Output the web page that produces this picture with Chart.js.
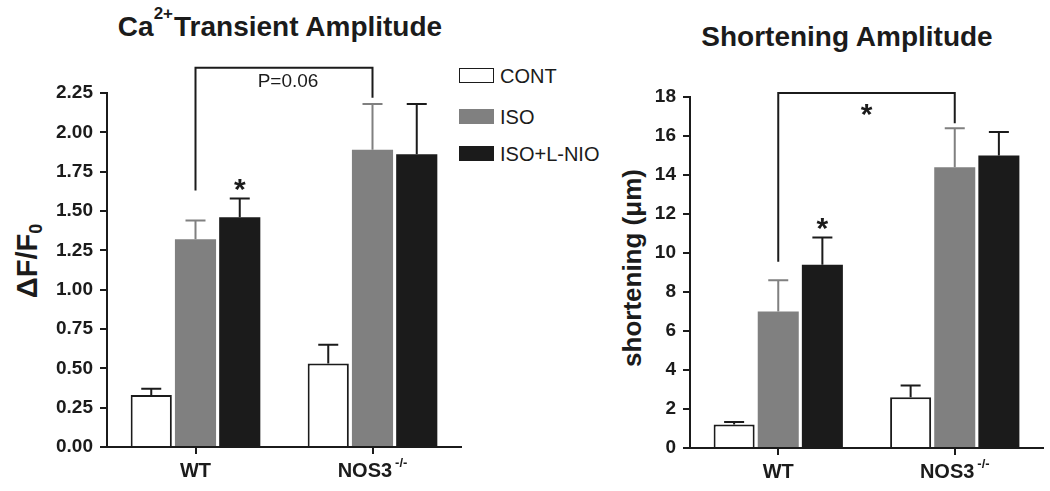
<!DOCTYPE html>
<html lang="en">
<head>
<meta charset="UTF-8">
<title>Ca2+ Transient Amplitude / Shortening Amplitude</title>
<script src="https://cdn.jsdelivr.net/npm/chart.js"></script>
<style>
  body { margin: 0; background: #fff; }
  #wrap { position: relative; width: 1050px; height: 491px; overflow: hidden;
          font-family: "Liberation Sans", Arial, sans-serif; color: #1b1b1b; }
  #c1 { position: absolute; left: 0; top: 0; }
  #c2 { position: absolute; left: 600px; top: 0; }
  .titulo { position: absolute; font-weight: bold; font-size: 28px; line-height: 28px;
            white-space: nowrap; transform: translateX(-50%); }
  .titulo .sup { font-size: 17px; position: relative; top: -17px; margin-right: 1px; }
  .eixo { position: absolute; font-weight: bold; white-space: nowrap; line-height: 1;
          transform: translate(-50%, -50%) rotate(-90deg); }
  .eixo sub { font-size: 18px; vertical-align: baseline; position: relative; top: 5px; }
  .caixa { position: absolute; left: 459px; width: 35px; height: 15px; box-sizing: border-box; }
  .texto_leg { position: absolute; left: 500px; font-size: 20px; line-height: 20px; white-space: nowrap; }
</style>
</head>
<body>
<div id="wrap">
  <div class="titulo" style="left:280px; top:13px;">Ca<span class="sup">2+</span>Transient Amplitude</div>
  <div class="titulo" style="left:847px; top:23px;">Shortening Amplitude</div>
  <div class="eixo" style="left:27px; top:261px; font-size:29px;">&Delta;F/F<sub>0</sub></div>
  <div class="eixo" style="left:632px; top:268px; font-size:26px;">shortening (&mu;m)</div>
  <div id="legenda"></div>
  <canvas id="c1" width="470" height="491"></canvas>
  <canvas id="c2" width="450" height="491"></canvas>
</div>

<script>
// categorias e series
const categorias = ['WT', 'NOS3'];
const categoriasSup = ['', '-/-'];
const series = ['CONT', 'ISO', 'ISO+L-NIO'];
const coresSeries = ['#ffffff', '#808080', '#1b1b1b'];
const coresBorda = ['#1b1b1b', '#808080', '#1b1b1b'];
const coresErro = ['#1b1b1b', '#808080', '#1b1b1b'];

// Ca2+ transient amplitude (dF/F0)
const caCont = [0.33, 0.53];
const caIso = [1.32, 1.89];
const caIsoLnio = [1.46, 1.86];
const caContErro = [0.04, 0.12];
const caIsoErro = [0.12, 0.29];
const caIsoLnioErro = [0.12, 0.32];
const caTicks = [0, 0.25, 0.5, 0.75, 1, 1.25, 1.5, 1.75, 2, 2.25];
const caColchete = [1.63, 2.41, 2.22];   // ponta esquerda, topo, ponta direita
const caColcheteTexto = 'P=0.06';
const caAsteriscos = [[2, 0]];            // [serie, categoria]

// shortening amplitude (um)
const shCont = [1.2, 2.6];
const shIso = [7.0, 14.4];
const shIsoLnio = [9.4, 15.0];
const shContErro = [0.13, 0.6];
const shIsoErro = [1.6, 2.0];
const shIsoLnioErro = [1.4, 1.2];
const shTicks = [0, 2, 4, 6, 8, 10, 12, 14, 16, 18];
const shColchete = [9.55, 18.2, 16.65];
const shColcheteTexto = '*';
const shAsteriscos = [[2, 0]];

const fonte = '"Liberation Sans", Arial, sans-serif';

// legenda
const legenda = document.getElementById('legenda');
const legendaY = [68, 109, 146];
series.forEach(function (nome, i) {
  const caixa = document.createElement('div');
  caixa.className = 'caixa';
  caixa.style.top = legendaY[i] + 'px';
  caixa.style.background = coresSeries[i];
  caixa.style.border = i === 0 ? '1.5px solid #1b1b1b' : 'none';
  legenda.appendChild(caixa);
  const txt = document.createElement('div');
  txt.className = 'texto_leg';
  txt.style.top = (legendaY[i] - 2) + 'px';
  txt.textContent = nome;
  legenda.appendChild(txt);
});

function criarExtras(erros, colchete, colcheteTexto, asteriscos) {
  return {
    id: 'extras',
    afterDatasetsDraw(chart) {
      const ctx = chart.ctx;
      const y = chart.scales.y;
      const x = chart.scales.x;
      ctx.save();
      ctx.lineWidth = 2;
      // barras de erro (so para cima)
      erros.forEach(function (errs, ds) {
        chart.getDatasetMeta(ds).data.forEach(function (bar, i) {
          const v = chart.data.datasets[ds].data[i];
          const topo = y.getPixelForValue(v + errs[i]);
          ctx.strokeStyle = coresErro[ds];
          ctx.beginPath();
          ctx.moveTo(bar.x, bar.y);
          ctx.lineTo(bar.x, topo);
          ctx.moveTo(bar.x - 10, topo);
          ctx.lineTo(bar.x + 10, topo);
          ctx.stroke();
        });
      });
      // colchete de comparacao
      const x0 = x.getPixelForValue(0);
      const x1 = x.getPixelForValue(1);
      const yTopo = y.getPixelForValue(colchete[1]);
      ctx.strokeStyle = '#1b1b1b';
      ctx.beginPath();
      ctx.moveTo(x0, y.getPixelForValue(colchete[0]));
      ctx.lineTo(x0, yTopo);
      ctx.lineTo(x1, yTopo);
      ctx.lineTo(x1, y.getPixelForValue(colchete[2]));
      ctx.stroke();
      ctx.fillStyle = '#1b1b1b';
      ctx.textAlign = 'center';
      if (colcheteTexto === '*') {
        ctx.font = 'bold 30px ' + fonte;
        ctx.textBaseline = 'alphabetic';
        ctx.fillText('*', (x0 + x1) / 2, yTopo + 31);
      } else {
        ctx.font = '19px ' + fonte;
        ctx.textBaseline = 'middle';
        ctx.fillText(colcheteTexto, (x0 + x1) / 2 + 4, yTopo + 14);
      }
      // asteriscos sobre as barras
      ctx.font = 'bold 30px ' + fonte;
      ctx.textBaseline = 'alphabetic';
      asteriscos.forEach(function (a) {
        const bar = chart.getDatasetMeta(a[0]).data[a[1]];
        const v = chart.data.datasets[a[0]].data[a[1]];
        const topo = y.getPixelForValue(v + erros[a[0]][a[1]]);
        ctx.fillText('*', bar.x, topo + 1);
      });
      // rotulos do eixo x com sobrescrito
      categorias.forEach(function (cat, i) {
        const cx = x.getPixelForValue(i);
        ctx.font = 'bold 20px ' + fonte;
        const w1 = ctx.measureText(cat).width;
        ctx.font = 'bold 13px ' + fonte;
        const w2 = categoriasSup[i] ? ctx.measureText(categoriasSup[i]).width + 3 : 0;
        const inicio = cx - (w1 + w2) / 2;
        ctx.textAlign = 'left';
        ctx.font = 'bold 20px ' + fonte;
        ctx.fillText(cat, inicio, chart.chartArea.bottom + 30);
        if (categoriasSup[i]) {
          ctx.font = 'bold 13px ' + fonte;
          ctx.fillText(categoriasSup[i], inicio + w1 + 3, chart.chartArea.bottom + 20);
        }
      });
      ctx.restore();
    }
  };
}

function criarGrafico(id, valores, erros, ticks, casas, colchete, colcheteTexto, asteriscos, larguraEixo, alturaEixo, padding) {
  new Chart(document.getElementById(id), {
    type: 'bar',
    data: {
      labels: categorias,
      datasets: series.map(function (nome, i) {
        return {
          label: nome,
          data: valores[i],
          backgroundColor: coresSeries[i],
          borderColor: coresBorda[i],
          borderWidth: i === 0 ? 2 : 0,
          categoryPercentage: 0.75,
          barPercentage: 0.93
        };
      })
    },
    options: {
      responsive: false,
      animation: false,
      layout: { padding: padding },
      plugins: { legend: { display: false }, tooltip: { enabled: false } },
      scales: {
        x: {
          grid: { offset: false, drawOnChartArea: false, drawTicks: true, tickLength: 7, color: '#1b1b1b', lineWidth: 2 },
          border: { display: true, color: '#1b1b1b', width: 2 },
          ticks: { display: false },
          afterFit: function (s) { s.height = alturaEixo; }
        },
        y: {
          min: ticks[0],
          max: ticks[ticks.length - 1],
          ticks: {
            stepSize: ticks[1] - ticks[0],
            callback: function (v) { return Number(v).toFixed(casas); },
            color: '#1b1b1b',
            font: { family: fonte, size: 19, weight: 'bold' },
            padding: 7
          },
          grid: { drawOnChartArea: false, tickLength: 7, color: '#1b1b1b', lineWidth: 2 },
          border: { color: '#1b1b1b', width: 2 },
          afterFit: function (s) { s.width = larguraEixo; }
        }
      }
    },
    plugins: [criarExtras(erros, colchete, colcheteTexto, asteriscos)]
  });
}

criarGrafico('c1',
  [caCont, caIso, caIsoLnio],
  [caContErro, caIsoErro, caIsoLnioErro],
  caTicks, 2, caColchete, caColcheteTexto, caAsteriscos,
  107, 44, { top: 93, right: 9, bottom: 0, left: 0 });

criarGrafico('c2',
  [shCont, shIso, shIsoLnio],
  [shContErro, shIsoErro, shIsoLnioErro],
  shTicks, 0, shColchete, shColcheteTexto, shAsteriscos,
  90, 43, { top: 97, right: 7, bottom: 0, left: 0 });
</script>
</body>
</html>
